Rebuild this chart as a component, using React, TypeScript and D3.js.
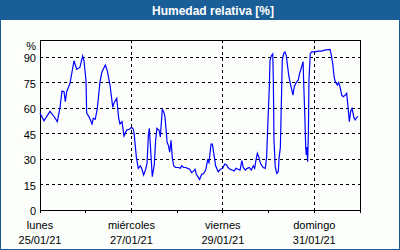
import React from "react";
import * as d3 from "d3";

const hours: number[] = [
  0, 2.1, 5.25, 7.35, 9.1, 10.5, 11.55, 12.6, 13.3, 14, 15.75, 17.85, 19.3, 21, 22.4, 23.1, 24.15, 24.5,
  25.9, 27.3, 28, 29, 30.1, 31.5, 32.55, 34.3, 35.3, 36.75, 38.2, 38.85, 40.3, 41.3, 42, 43.05, 44.1,
  45.5, 46.9, 48.1, 49, 49.5, 50.6, 51.6, 52.7, 53.4, 54.4, 55.5, 56.2, 56.9, 57.4, 58.95, 60, 60.7,
  61.4, 61.8, 62.5, 63.2, 63.5, 64.2, 64.9, 65.6, 66.3, 66.7, 67.4, 68.1, 68.8, 69.5, 70.2, 71.2, 72.6,
  73.7, 74.4, 75.4, 76.5, 77.5, 78.6, 79.6, 80.7, 81.4, 82.1, 83.1, 83.8, 84.9, 85.9, 87, 88, 88.7,
  89.8, 90.5, 91.5, 92.2, 93.6, 94.7, 95.9, 97, 98, 98.7, 99.75, 100.8, 101.9, 102.9, 104, 105, 106,
  106.7, 107.8, 108.8, 109.9, 110.9, 112, 112.7, 113.4, 114.1, 114.8, 115.5, 116.2, 117.2, 118.3, 119,
  119.7, 120.4, 120.75, 121.4, 122.2, 122.5, 122.85, 123.5, 124.3, 125.1, 125.5, 126.2, 126.9, 127.2,
  127.9, 128.6, 129.3, 130, 130.7, 131.4, 132.2, 132.8, 133.5, 134.3, 134.9, 135.6, 136.3, 137.4,
  138.1, 138.4, 139.1, 139.5, 139.8, 140.2, 140.5, 140.9, 141.2, 141.9, 142.6, 144.4, 146.1, 147.9,
  149.3, 152.25, 152.8, 153.7, 154.4, 155, 156.1, 156.8, 157.5, 158.4, 159.2, 160.3, 161, 161.7, 162.4,
  163.1, 163.8, 164.9, 165.5, 166.3, 167,
];

const humidity: number[] = [
  57, 52.5, 58, 55, 52, 60.4, 70, 69.6, 63.7, 69.6, 74.5, 87.8, 82.7, 84, 90.6, 87.8, 76, 57,
  54.5, 50.6, 54, 53.3, 59.8, 75.5, 81.4, 85.3, 82, 73.5, 60.4, 63, 65.7, 54, 50.6, 52, 43.5,
  47, 47.5, 48.6, 47.5, 44, 31, 24.5, 26, 24.5, 20.6, 24, 27.5, 44, 48, 19.6, 26.5, 41,
  48, 47.5, 47, 43, 48, 59, 58, 55, 46, 40, 38, 34, 41, 30.4, 26, 25, 25,
  24.5, 26, 25, 25, 24.5, 24, 22, 23, 24, 21, 19.2, 18, 21, 21.5, 23.5, 29.4, 27.8,
  38.8, 38.8, 31.4, 26, 22.5, 24, 24.5, 27, 26.5, 25, 24, 23.5, 23, 24.5, 24, 23.5, 29,
  25, 23.5, 24.5, 25, 23.5, 26, 24.5, 29.4, 33.3, 31.4, 28.4, 26.5, 25, 24.5, 31.4,
  53, 72.5, 88, 90.6, 91.8, 76.5, 41, 25.5, 21.5, 22.5, 30.4, 37, 72.5, 88,
  92, 93, 91, 84.3, 78.4, 74.5, 70.6, 67.6, 72.5, 74.5, 75.5, 76.5, 80.4, 84.3,
  87.3, 76.5, 53, 37, 32.4, 37, 28.4, 45, 76.5, 92, 93, 93, 93.5, 93.5,
  94, 94.5, 92, 86, 78.4, 75.5, 73.5, 75, 72.5, 67.6, 66.7, 67.6, 68.6, 60.8, 52,
  58, 59.8, 54, 53, 54.5, 55,
];

const yTicks: number[] = [0, 15, 30, 45, 60, 75, 90];
const dayNames: string[] = ["lunes", "miércoles", "viernes", "domingo"];
const dayDates: string[] = ["25/01/21", "27/01/21", "29/01/21", "31/01/21"];
const dayOffsets: number[] = [0, 2, 4, 6];

const W = 400;
const H = 250;
const L = 40, R = 360, T = 40, B = 210;
const FONT = "'Liberation Sans', Arial, sans-serif";

export default function App() {
  const start = new Date(2021, 0, 25);
  const end = d3.timeDay.offset(start, 7);
  const x = d3.scaleTime().domain([start, end]).range([L, R]);
  const y = d3.scaleLinear().domain([0, 100]).range([B, T]);
  const toDate = (h: number) => new Date(start.getTime() + h * 3600 * 1000);
  const data = hours.map((h, i) => ({ t: toDate(h), v: humidity[i] }));
  const line = d3
    .line<{ t: Date; v: number }>()
    .x((d) => x(d.t))
    .y((d) => y(d.v));
  const days = d3.timeDay.range(start, d3.timeDay.offset(end, 1));

  return (
    <svg
      width={W}
      height={H}
      style={{ position: "absolute", left: 0, top: 0, display: "block" }}
      fontFamily={FONT}
    >
      <rect x={0} y={0} width={W} height={H} fill="#1a5e98" />
      <rect x={1} y={20} width={W - 2} height={H - 21} fill="#fbfefb" />
      <text x={213} y={15} textAnchor="middle" fill="#ffffff" fontWeight="bold" fontSize={12}>
        Humedad relativa [%]
      </text>

      {yTicks.filter((v) => v > 0).map((v) => (
        <line key={"gy" + v} x1={L} x2={R} y1={y(v)} y2={y(v)} stroke="#000" strokeDasharray="3,3" shapeRendering="crispEdges" />
      ))}
      {dayOffsets.filter((d) => d > 0).map((d) => {
        const xx = x(d3.timeDay.offset(start, d));
        return <line key={"gx" + d} x1={xx} x2={xx} y1={T} y2={B} stroke="#000" strokeDasharray="3,3" shapeRendering="crispEdges" />;
      })}

      <rect x={L} y={T} width={R - L} height={B - T} fill="none" stroke="#000" shapeRendering="crispEdges" />
      {days.map((d, i) => (
        <line key={"tk" + i} x1={x(d)} x2={x(d)} y1={B} y2={B + 3} stroke="#000" shapeRendering="crispEdges" />
      ))}

      {yTicks.map((v) => (
        <text key={"yl" + v} x={36} y={y(v) + 5} textAnchor="end" fontSize={11} fill="#000">
          {v}
        </text>
      ))}
      <text x={36} y={50} textAnchor="end" fontSize={11} fill="#000">%</text>

      {dayOffsets.map((d, i) => {
        const xx = x(d3.timeDay.offset(start, d));
        return (
          <g key={"dl" + d}>
            <text x={xx} y={229} textAnchor="middle" fontSize={11} fill="#000">{dayNames[i]}</text>
            <text x={xx} y={243.5} textAnchor="middle" fontSize={11} fill="#000">{dayDates[i]}</text>
          </g>
        );
      })}

      <path d={line(data) || ""} fill="none" stroke="#0000ff" strokeWidth={1.2} />
    </svg>
  );
}
